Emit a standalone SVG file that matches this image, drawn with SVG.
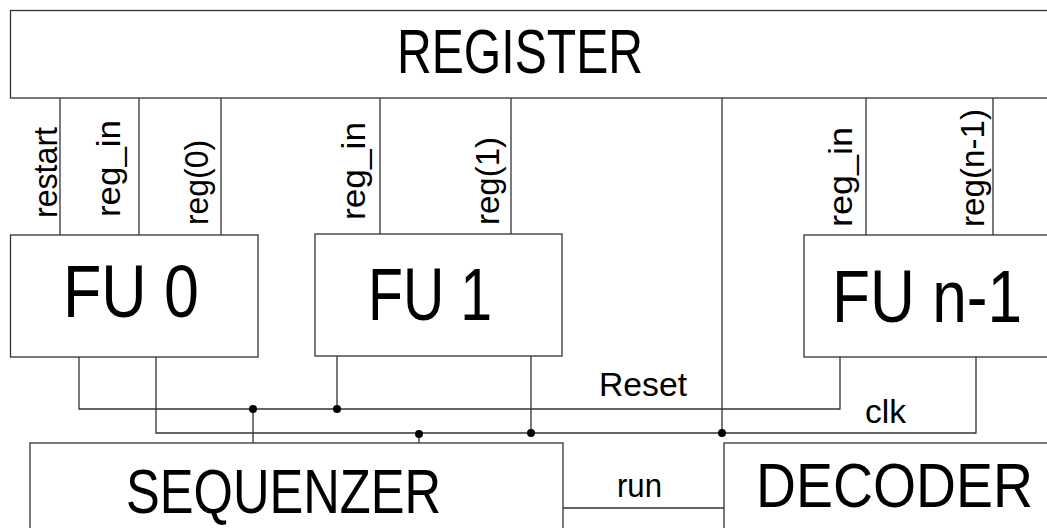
<svg xmlns="http://www.w3.org/2000/svg" width="1047" height="528" viewBox="0 0 1047 528">
<style>
.box{fill:#fff;stroke:#333;stroke-width:1.3}
.w{fill:none;stroke:#333;stroke-width:1.3}
.big{font-family:"Liberation Sans",Arial,sans-serif;font-size:63px;fill:#000}
.fu{font-family:"Liberation Sans",Arial,sans-serif;font-size:75px;fill:#000}
.sm{font-family:"Liberation Sans",Arial,sans-serif;font-size:33px;fill:#000}
.dot{fill:#000}
</style>
<rect width="1047" height="528" fill="#fff"/>
<g id="register">
<rect class="box" x="10.5" y="10.5" width="1045" height="87.5"/>
<text class="big" x="397" y="73" textLength="246" lengthAdjust="spacingAndGlyphs">REGISTER</text>
</g>
<g id="connectors">
<path class="w" d="M60 98V235M139 98V235M221 98V235M380 98V234M511 98V234M866 98V235M993 98V235M722 98V433"/>
<path class="w" d="M79 357V409H840V357M156 357V433H976V357M337 356V409M531 356V433M253 409V443M419 433V443M563 508H724"/>
<circle class="dot" cx="253" cy="409" r="4"/>
<circle class="dot" cx="337" cy="409" r="4"/>
<circle class="dot" cx="419" cy="434" r="4"/>
<circle class="dot" cx="531" cy="433" r="4"/>
<circle class="dot" cx="722" cy="433" r="4"/>
<text class="sm" x="57" y="218" transform="rotate(-90 57 218)" textLength="91" lengthAdjust="spacingAndGlyphs">restart</text>
<text class="sm" x="120" y="217" transform="rotate(-90 120 217)" textLength="97" lengthAdjust="spacingAndGlyphs">reg_in</text>
<text class="sm" x="208" y="225" transform="rotate(-90 208 225)" textLength="85" lengthAdjust="spacingAndGlyphs">reg(0)</text>
<text class="sm" x="365" y="220" transform="rotate(-90 365 220)" textLength="98" lengthAdjust="spacingAndGlyphs">reg_in</text>
<text class="sm" x="499" y="225" transform="rotate(-90 499 225)" textLength="88" lengthAdjust="spacingAndGlyphs">reg(1)</text>
<text class="sm" x="852" y="227" transform="rotate(-90 852 227)" textLength="100" lengthAdjust="spacingAndGlyphs">reg_in</text>
<text class="sm" x="984" y="227" transform="rotate(-90 984 227)" textLength="118" lengthAdjust="spacingAndGlyphs">reg(n-1)</text>
<text class="sm" x="599" y="396" textLength="88" lengthAdjust="spacingAndGlyphs">Reset</text>
<text class="sm" x="865" y="423" textLength="41" lengthAdjust="spacingAndGlyphs">clk</text>
<text class="sm" x="617" y="497" textLength="45" lengthAdjust="spacingAndGlyphs">run</text>
</g>
<g id="fu0">
<rect class="box" x="10.5" y="235" width="247.5" height="122"/>
<text class="fu" x="63" y="317" textLength="136" lengthAdjust="spacingAndGlyphs">FU 0</text>
</g>
<g id="fu1">
<rect class="box" x="315" y="234" width="247" height="122"/>
<text class="fu" x="368" y="320" textLength="124" lengthAdjust="spacingAndGlyphs">FU 1</text>
</g>
<g id="fun1">
<rect class="box" x="804" y="235" width="250" height="122"/>
<text class="fu" x="832" y="322" textLength="190" lengthAdjust="spacingAndGlyphs">FU n-1</text>
</g>
<g id="sequenzer">
<rect class="box" x="30" y="443" width="533" height="100"/>
<text class="big" x="126" y="513" textLength="315" lengthAdjust="spacingAndGlyphs">SEQUENZER</text>
</g>
<g id="decoder">
<rect class="box" x="724" y="443" width="330" height="100"/>
<text class="big" x="756" y="507" textLength="277" lengthAdjust="spacingAndGlyphs">DECODER</text>
</g>
</svg>
